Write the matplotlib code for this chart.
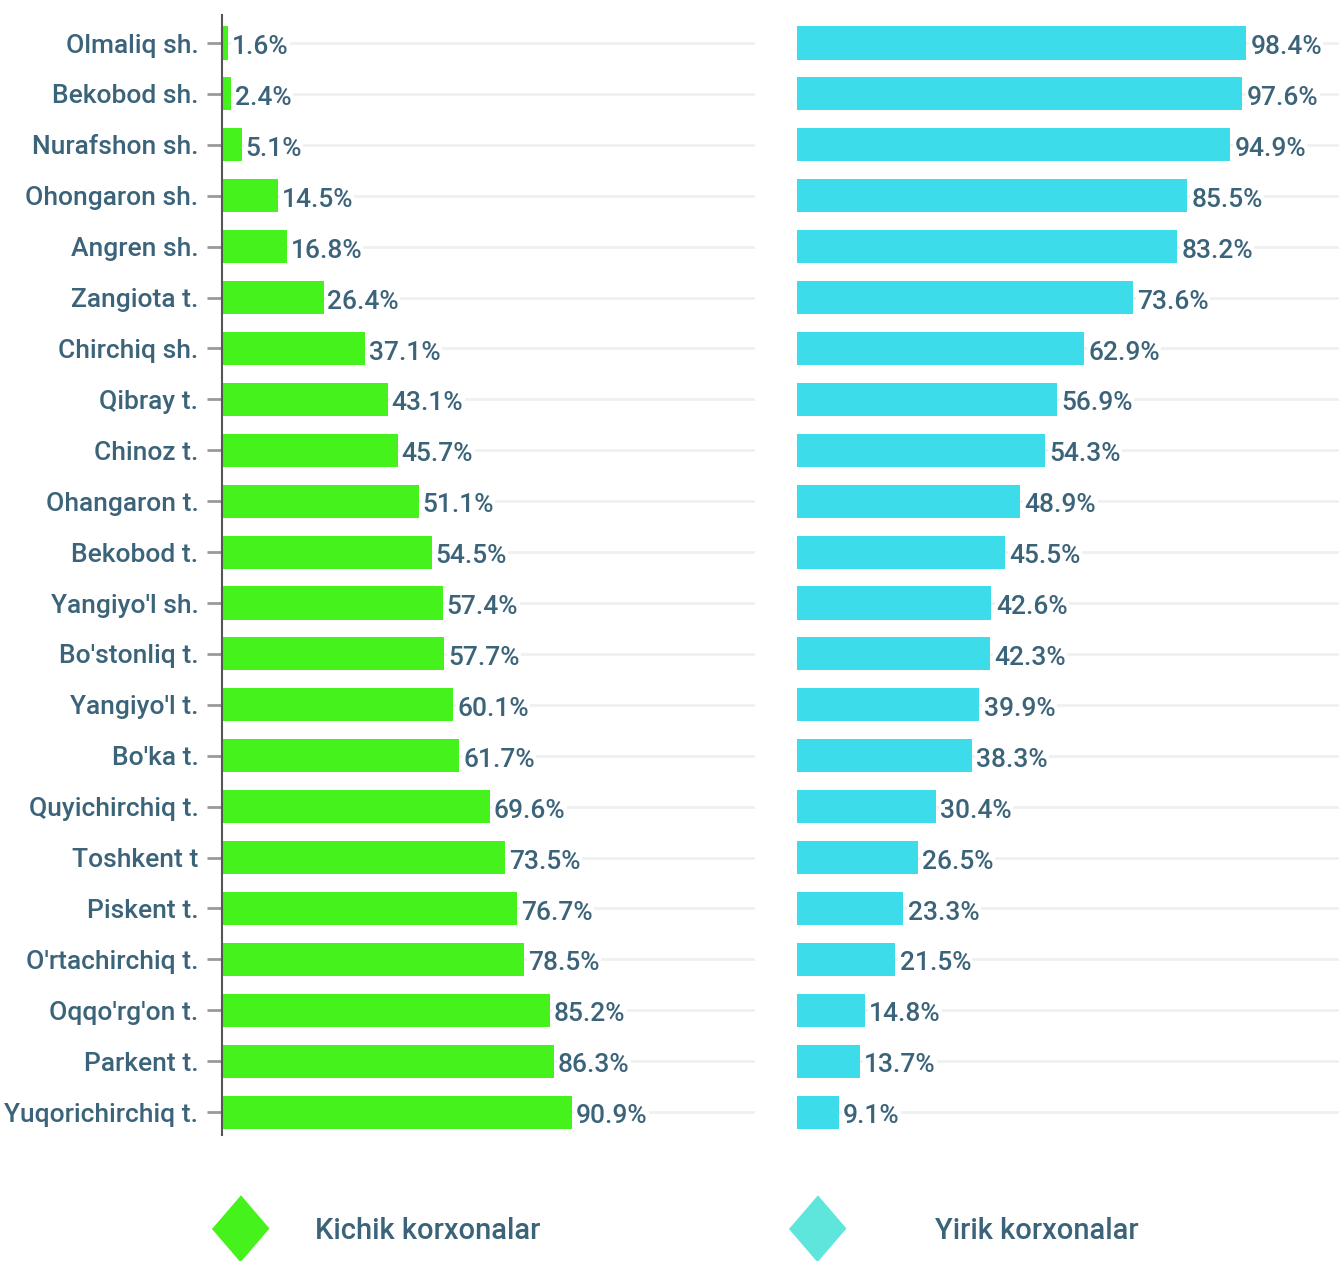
import numpy as np
import matplotlib.pyplot as plt

# ma'lumotlar
districts = ["Olmaliq sh.", "Bekobod sh.", "Nurafshon sh.", "Ohongaron sh.", "Angren sh.",
             "Zangiota t.", "Chirchiq sh.", "Qibray t.", "Chinoz t.", "Ohangaron t.",
             "Bekobod t.", "Yangiyo'l sh.", "Bo'stonliq t.", "Yangiyo'l t.", "Bo'ka t.",
             "Quyichirchiq t.", "Toshkent t", "Piskent t.", "O'rtachirchiq t.", "Oqqo'rg'on t.",
             "Parkent t.", "Yuqorichirchiq t."]
small = [1.6, 2.4, 5.1, 14.5, 16.8, 26.4, 37.1, 43.1, 45.7, 51.1, 54.5,
         57.4, 57.7, 60.1, 61.7, 69.6, 73.5, 76.7, 78.5, 85.2, 86.3, 90.9]
large = [98.4, 97.6, 94.9, 85.5, 83.2, 73.6, 62.9, 56.9, 54.3, 48.9, 45.5,
         42.6, 42.3, 39.9, 38.3, 30.4, 26.5, 23.3, 21.5, 14.8, 13.7, 9.1]
legend_labels = ["Kichik korxonalar", "Yirik korxonalar"]

plt.rcParams['font.family'] = ['Roboto', 'DejaVu Sans']

txt_col = '#3b6379'
green = '#46f21b'
cyan = '#3ddcea'
grid_col = '#f0f0f0'

W, H = 1339, 1261
fig = plt.figure(figsize=(W / 100, H / 100), dpi=100)

y = np.arange(len(districts))
top, bot = 1 - 15 / H, 1 - 1135 / H

ax1 = fig.add_axes([222 / W, bot, (755 - 222) / W, top - bot])
ax2 = fig.add_axes([797 / W, bot, (W - 797) / W, top - bot])

for ax, vals, col, xmax in [(ax1, small, green, 138.5), (ax2, large, cyan, 118.8)]:
    for yi in y:
        ax.axhline(yi, color=grid_col, lw=2, zorder=0)
    ax.barh(y, vals, height=0.65, color=col, zorder=2)
    for yi, v in zip(y, vals):
        ax.text(v + 1.0, yi + 0.08, f"{v}%", va='center', ha='left', fontsize=19,
                fontweight='medium', color=txt_col, zorder=3,
                bbox=dict(facecolor='white', edgecolor='none', pad=1.0))
    ax.set_xlim(0, xmax)
    ax.set_ylim(len(districts) - 0.55, -0.55)
    ax.set_xticks([])
    for s in ['top', 'right', 'bottom']:
        ax.spines[s].set_visible(False)

ax1.spines['left'].set_color('#555555')
ax1.spines['left'].set_linewidth(1.5)
ax1.set_yticks(y)
ax1.set_yticklabels(districts, fontsize=19, fontweight='medium', color=txt_col)
ax1.tick_params(axis='y', length=11, width=2, color='#999999', pad=6)

ax2.spines['left'].set_visible(False)
ax2.set_yticks([])

# legenda
lax = fig.add_axes([0, 0, 1, 1], facecolor='none')
lax.set_xlim(0, W)
lax.set_ylim(H, 0)
lax.axis('off')
diamond = [(0, 1), (0.86, 0), (0, -1), (-0.86, 0)]
for xm, xt, col, lab in [(240, 315, green, legend_labels[0]),
                         (817, 935, '#5fe6dc', legend_labels[1])]:
    lax.plot([xm], [1228], marker=diamond, markersize=47, color=col, linestyle='none')
    lax.text(xt, 1231, lab, fontsize=21, fontweight='medium', color=txt_col,
             va='center', ha='left')

fig.savefig('out.png', dpi=100, facecolor='white')
